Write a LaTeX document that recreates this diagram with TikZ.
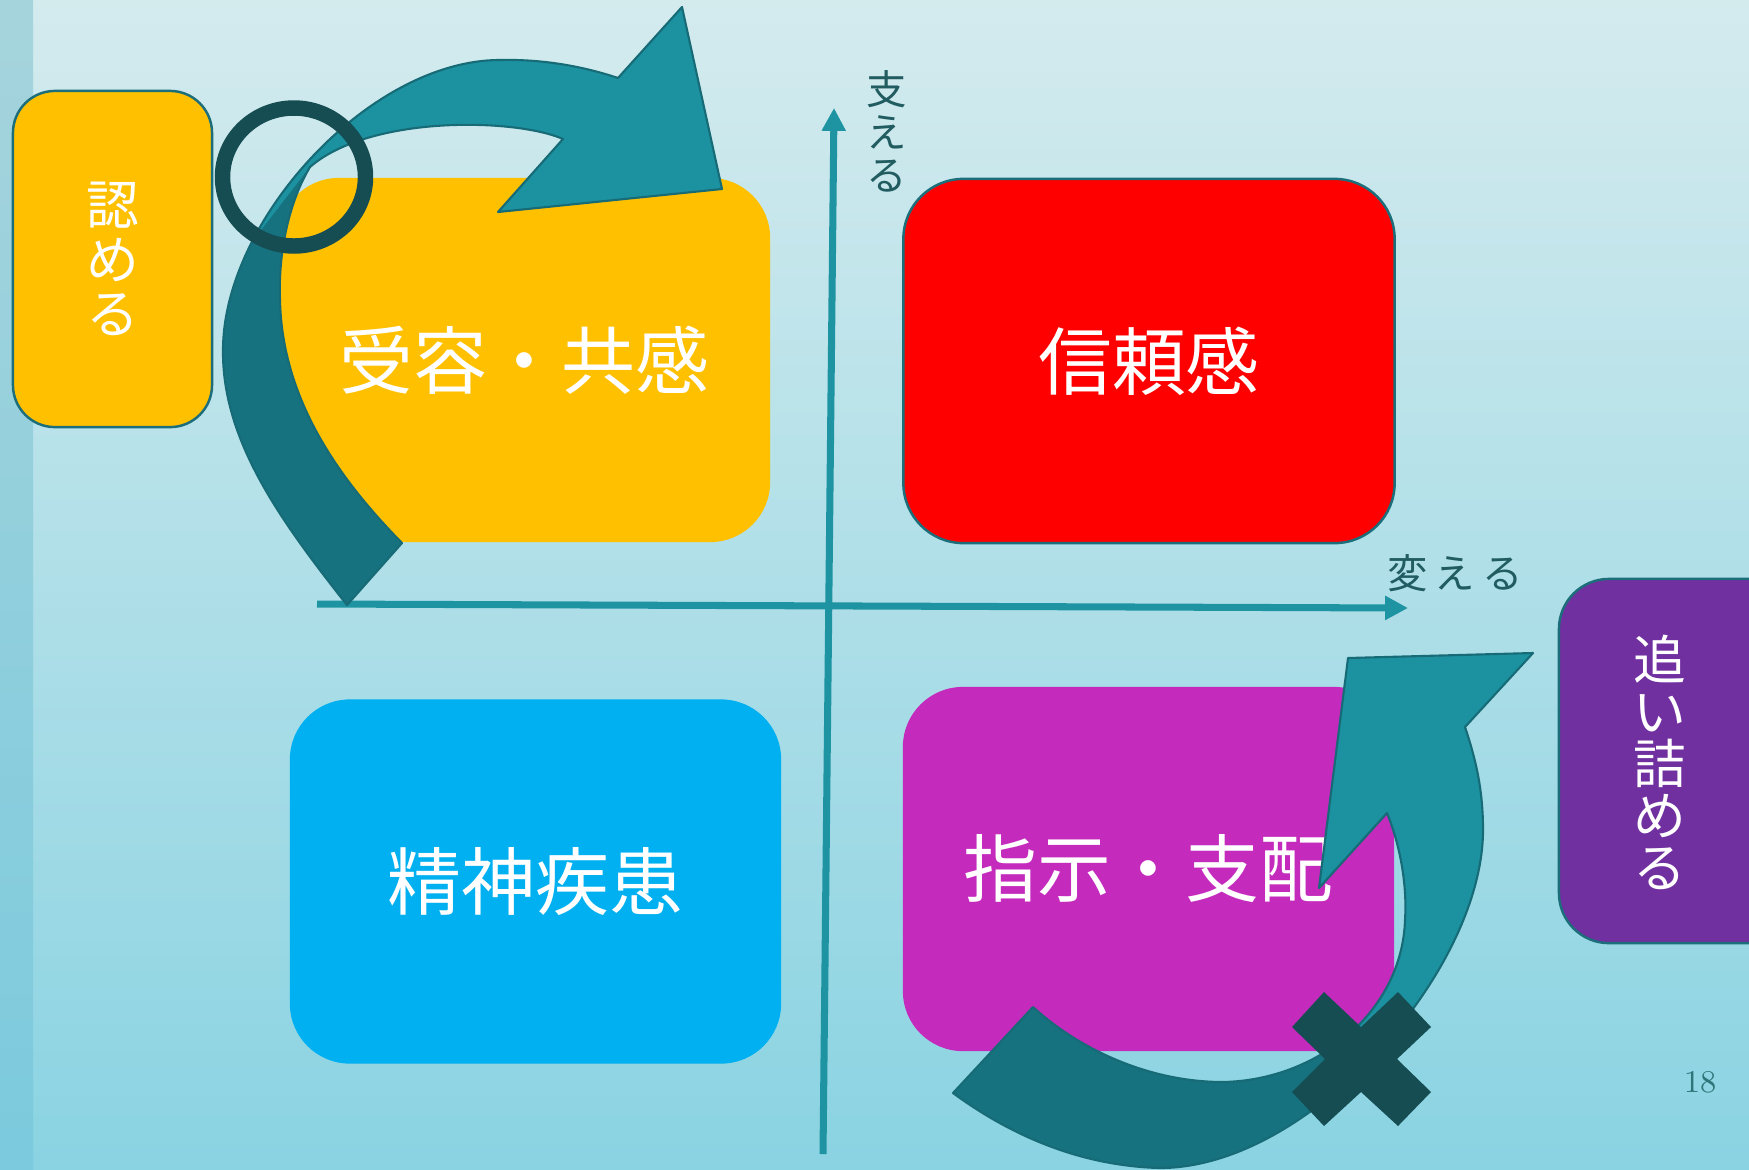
\documentclass[tikz,border=0pt]{standalone}
\usepackage{fontspec}
\newfontfamily\jp{Noto Sans CJK JP}
\usetikzlibrary{arrows.meta}
\definecolor{bgtop}{HTML}{D4EBEE}
\definecolor{bgmid}{HTML}{ADE1EA}
\definecolor{bgbot}{HTML}{8AD3E2}
\definecolor{striptop}{HTML}{A6D4DC}
\definecolor{stripbot}{HTML}{7BCADD}
\definecolor{axiscol}{HTML}{1E93A2}
\definecolor{arrowlight}{HTML}{1C91A0}
\definecolor{arrowdark}{HTML}{177280}
\definecolor{arrowedge}{HTML}{166B76}
\definecolor{ringcol}{HTML}{164D52}
\definecolor{labelcol}{HTML}{215C61}
\definecolor{numcol}{HTML}{2E7479}
\definecolor{boxedge}{HTML}{1C6E7A}
\definecolor{orangebox}{HTML}{FFC000}
\definecolor{redbox}{HTML}{FF0000}
\definecolor{skybox}{HTML}{00B0F0}
\definecolor{magbox}{HTML}{C42ABC}
\definecolor{purplebox}{HTML}{7030A0}

\newcommand\upperarrowpath{(347,605) .. controls (280,520) and (222,440) .. (223,350) .. controls (223,220) and (370,60) .. (500,60) .. controls (545,59) and (585,67) .. (618,78) -- (682,7) -- (722,189) -- (498,212) -- (563,139) .. controls (515,118) and (370,115) .. (310,167) .. controls (290,200) and (278,250) .. (280,300) .. controls (282,400) and (340,480) .. (402,543) -- cycle}

\newcommand\lowerarrowpath{(953,1093) .. controls (1010,1135) and (1080,1166) .. (1160,1168) .. controls (1310,1168) and (1483,970) .. (1483,830) .. controls (1483,790) and (1476,760) .. (1465,727) -- (1533,653) -- (1348,658) -- (1319,888) -- (1387,813) .. controls (1402,850) and (1407,890) .. (1405,920) .. controls (1402,1010) and (1320,1080) .. (1223,1082) .. controls (1150,1082) and (1080,1050) .. (1033,1007) -- cycle}

\newcommand\boxtext[1]{\raisebox{-0.9pt}{#1}}

\begin{document}
\begin{tikzpicture}[x=0.01cm, y=-0.01cm,
  bigbox/.style={rounded corners=0.6cm, minimum width=4.91cm, minimum height=3.64cm, text=white, font=\jp\fontsize{21}{25}\selectfont, inner sep=0pt},
  sidebox/.style={rounded corners=0.42cm, draw=boxedge, line width=0.7pt, text=white, align=center, font=\jp\fontsize{15}{15.4}\selectfont, inner sep=0pt},
  axisline/.style={draw=axiscol, line width=2pt, -{Triangle[length=6.5pt,width=6.5pt]}},
  axlabel/.style={text=labelcol, font=\jp\fontsize{11.5}{12.2}\selectfont, align=center, inner sep=0pt},
  arrowshape/.style={draw=arrowedge, line width=0.6pt, line join=round}
]
\useasboundingbox (0,0) rectangle (1749,1169);
\clip (0,0) rectangle (1749,1169);
% background
\shade[top color=bgtop, middle color=bgmid, bottom color=bgbot] (0,0) rectangle (1749,1169);
\shade[top color=striptop, bottom color=stripbot] (0,0) rectangle (33,1169);

% boxes
\node[sidebox, fill=orangebox, minimum width=1.99cm, minimum height=3.36cm] (mitomeru) at (112.5,259) {認\\め\\る};
\node[bigbox, fill=orangebox] (juyo) at (524.5,360) {\boxtext{受容・共感}};
\node[bigbox, fill=redbox, draw=boxedge, line width=0.7pt] (shinrai) at (1149,361) {\boxtext{信頼感}};
\node[bigbox, fill=skybox] (seishin) at (535.5,881.5) {\boxtext{精神疾患}};
\node[bigbox, fill=magbox] (shiji) at (1148.5,869) {\boxtext{指示・支配}};
\node[sidebox, fill=purplebox, minimum width=2.6cm, minimum height=3.64cm, rounded corners=0.5cm] (tsumebox) at (1689,761) {};
\node[text=white, align=center, font=\jp\fontsize{15}{14.8}\selectfont, inner sep=0pt] (tsume) at (1660,762) {追\\い\\詰\\め\\る};

% axes
\coordinate (vbot) at (823,1154);
\coordinate (vtop) at (834,108);
\coordinate (hleft) at (317,604);
\coordinate (hright) at (1408,608);
\draw[axisline] (vbot) -- (vtop);
\draw[axisline] (hleft) -- (hright);
\node[axlabel] (sasaeru) at (887,131) {支\\え\\る};
\node[axlabel] (kaeru) at (1455,573) {変\hspace{2pt}え\hspace{2pt}る};

% upper arrow
\fill[arrowlight] \upperarrowpath;
\begin{scope}
  \clip (310,167) -- (248,247) -- (150,300) -- (150,700) -- (500,700) -- (500,300) -- (340,175) -- cycle;
  \fill[arrowdark] \upperarrowpath;
\end{scope}
\draw[arrowshape] \upperarrowpath;

% ring
\draw[ringcol, line width=4.4pt] (294,177) ellipse [x radius=71.5, y radius=69];

% lower arrow
\fill[arrowlight] \lowerarrowpath;
\begin{scope}
  \clip (900,900) -- (1340,1010) -- (1400,1080) -- (1400,1200) -- (900,1200) -- cycle;
  \fill[arrowdark] \lowerarrowpath;
\end{scope}
\draw[arrowshape] \lowerarrowpath;

% cross
\fill[ringcol] (1324,992) -- (1361,1027) -- (1398,992) -- (1431,1027) -- (1397,1059) -- (1431,1092) -- (1398,1126) -- (1361,1092) -- (1324,1126) -- (1292,1092) -- (1325,1059) -- (1292,1027) -- cycle;

% page number
\node[text=numcol, font=\fontsize{9}{10}\selectfont, inner sep=0pt] (pnum) at (1700,1082) {18};
\end{tikzpicture}
\end{document}
